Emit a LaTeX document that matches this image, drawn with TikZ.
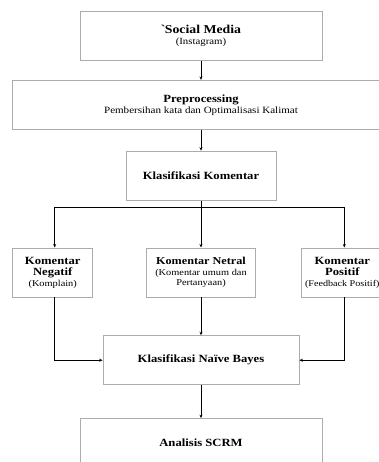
\documentclass[tikz,border=0pt]{standalone}
\usepackage{fontspec}
\setmainfont{Liberation Serif}[FakeStretch=1.15]
\usepackage{tikz}
\usetikzlibrary{positioning}
\usetikzlibrary{arrows.meta}

\newcommand{\boxtitle}[2][11]{{\fontsize{#1}{13}\selectfont\bfseries #2}}
\newcommand{\boxsub}[2][9]{{\fontsize{#1}{10.5}\selectfont #2}}

\begin{document}
\begin{tikzpicture}[
                          x=1pt, y=1pt,
                          >={Stealth[length=3.5pt, width=3pt]},
                          flowbox/.style={rectangle, draw=gray!65, line width=0.8pt, align=center, minimum height=49pt, inner sep=2pt},
                          flowline/.style={->, line width=0.8pt},
                      ]
                      \useasboundingbox (0,0) rectangle (379,-462);
                      \clip (0,0) rectangle (379,-462);
                      % Nodes
                      \node[flowbox, minimum width=242pt]  (media)  at (201,-36)          {\boxtitle[12]{\textasciigrave Social Media}\\[-1pt]\boxsub[9.4]{(Instagram)}};
                      \node[flowbox, minimum width=378pt]  (prep)   [below=19pt of media]  {\boxtitle[11]{Preprocessing}\\[-1pt]\boxsub[9.6]{Pembersihan kata dan Optimalisasi Kalimat}};
                      \node[flowbox, minimum width=150pt]  (klas)   [below=21pt of prep]   {\boxtitle{Klasifikasi Komentar}};

                      \node[flowbox, minimum width=109pt]  (netral) [below=47pt of klas]   {\boxtitle[10.6]{Komentar Netral}\\[-1pt]\boxsub{(Komentar umum dan}\\[-2pt]\boxsub{Pertanyaan)}};
                      \node[flowbox, minimum width=80pt]   (negatif) [left=53pt of netral] {\boxtitle{Komentar}\\[-1pt]\boxtitle{Negatif}\\[-1pt]\boxsub{(Komplain)}};
                      \node[flowbox, minimum width=82pt]   (positif) [right=45pt of netral] {\boxtitle{Komentar}\\[-1pt]\boxtitle{Positif}\\[-1pt]\boxsub[8.8]{(Feedback Positif)}};

                      \node[flowbox, minimum width=196pt]  (bayes)  [below=38pt of netral] {\boxtitle{Klasifikasi Na\"ive Bayes}};
                      \node[flowbox, minimum width=242pt]  (scrm)   [below=33pt of bayes]  {\boxtitle{Analisis SCRM}};

                      \coordinate (split) at ([yshift=-7pt]klas.south);
                      \coordinate (neg_top) at ([xshift=2pt]negatif.north);
                      \coordinate (neg_bottom) at ([xshift=2pt]negatif.south);
                      \coordinate (pos_top) at ([xshift=2pt]positif.north);
                      \coordinate (pos_bottom) at ([xshift=2pt]positif.south);

                      %Lines
                      \draw[flowline] (media.south) -- (prep.north);
                      \draw[flowline] (prep.south) -- (klas.north);
                      \draw[line width=0.8pt] (klas.south) -- (split);
                      \draw[flowline] (split) -| (neg_top);
                      \draw[flowline] (split) -| (pos_top);
                      \draw[flowline] (split) -- (netral.north);
                      \draw[flowline] (neg_bottom) |- (bayes.west);
                      \draw[flowline] (netral.south) -- (bayes.north);
                      \draw[flowline] (pos_bottom) |- (bayes.east);
                      \draw[flowline] (bayes.south) -- (scrm.north);
                  \end{tikzpicture}
\end{document}
